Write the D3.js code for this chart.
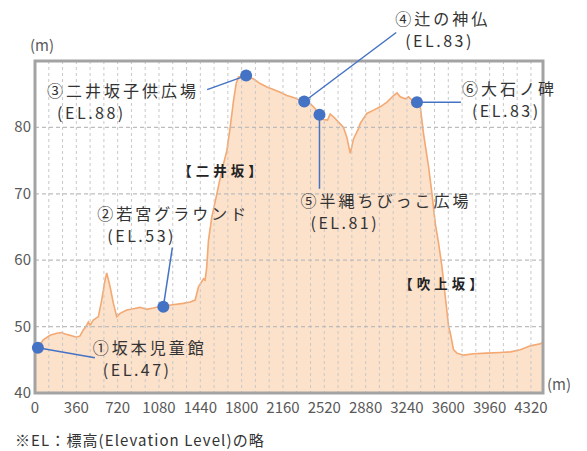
<!DOCTYPE html>
<html>
<head>
<meta charset="utf-8">
<script src="https://cdn.jsdelivr.net/npm/d3@7"></script>
<style>
  body { margin: 0; background: #fff; }
  text { font-family: "Noto Sans CJK JP", "Noto Sans", sans-serif; }
</style>
</head>
<body>
<svg id="chart" width="587" height="451"></svg>
<script>
// Elevation profile: distance from start (m) and elevation (m)
const distances = [
  0, 25, 72, 131, 189, 232, 262, 305, 363, 392, 421, 450, 465, 479, 508, 552,
  581, 610, 625, 654, 683, 712, 741, 799, 857, 915, 974, 1030, 1080, 1118, 1200,
  1290, 1351, 1395, 1424, 1468, 1482, 1496, 1511, 1540, 1584, 1627, 1671, 1700,
  1729, 1752, 1773, 1839, 1903, 1961, 2020, 2077, 2136, 2194, 2252, 2295, 2345,
  2397, 2441, 2478, 2513, 2548, 2571, 2600, 2644, 2687, 2717, 2746, 2775, 2818,
  2833, 2891, 2949, 3007, 3066, 3123, 3153, 3182, 3225, 3254, 3283, 3327, 3356,
  3385, 3429, 3458, 3487, 3516, 3545, 3574, 3603, 3618, 3646, 3676, 3734, 3821,
  3937, 4053, 4141, 4228, 4315, 4402, 4425
];
const elevations = [
  46.6, 46.8, 48.0, 48.7, 49.0, 49.1, 48.9, 48.7, 48.4, 48.6, 49.5, 50.2, 50.7, 50.2, 51.0, 51.5,
  54.0, 57.0, 58.1, 56.0, 53.5, 51.5, 52.0, 52.5, 52.7, 52.9, 52.6, 52.8, 53.0, 53.1, 53.3,
  53.5, 53.7, 54.0, 56.0, 57.2, 57.0, 59.0, 63.0, 66.5, 70.0, 73.5, 76.5, 80.0,
  84.0, 86.6, 87.6, 87.8, 87.3, 86.6, 86.1, 85.7, 85.3, 84.8, 84.5, 84.2, 83.9,
  83.6, 82.8, 81.9, 81.2, 81.1, 82.0, 81.6, 80.8, 80.0, 78.5, 76.1, 78.3, 79.8,
  80.6, 82.1, 82.6, 83.1, 83.8, 84.8, 85.2, 84.6, 84.3, 84.6, 84.1, 83.8, 83.1,
  79.0, 74.0, 70.0, 65.5, 62.5, 59.0, 54.5, 50.0, 49.0, 46.5, 46.0, 45.7, 45.9,
  46.0, 46.1, 46.2, 46.5, 47.1, 47.4, 47.7
];

// Landmarks along the route
const spotNames = ["①坂本児童館", "②若宮グラウンド", "③二井坂子供広場", "④辻の神仏", "⑤半縄ちびっこ広場", "⑥大石ノ碑"];
const spotDistances = [25, 1118, 1839, 2345, 2478, 3327];
const spotElevations = [46.8, 53.0, 87.8, 83.9, 81.9, 83.8];
const spotEL = [47, 53, 88, 83, 81, 83];

const slopeNames = ["【二井坂】", "【吹上坂】"];

const xTicks = d3.range(0, 4321, 360);
const yTicks = [40, 50, 60, 70, 80];
const xGrid = d3.range(120, 4321, 120);
const yGrid = [50, 60, 70, 80];

// annotation layout (pixel offsets from each dot)
const leaderEnds = [[57, 10], [9, -59], [-39, 14], [92, -69], [0, 74], [44, 0]];
const labelOffsets = [[55, 6], [-66, -87], [-199, 21], [91, -77], [-19, 92], [45, -7]];
const slopePos = [[222, 176], [443, 289]];

const plot = { left: 35, right: 543, top: 61, bottom: 393 };

const svg = d3.select("#chart");

const x = d3.scaleLinear().domain([0, 4425]).range([plot.left, plot.right]);
const y = d3.scaleLinear().domain([40, 90]).range([plot.bottom, plot.top]);

const profile = distances.map((d, i) => ({ d: d, v: elevations[i] }));

// area + line
svg.append("path")
  .datum(profile)
  .attr("fill", "#fce1cb")
  .attr("d", d3.area().x(p => x(p.d)).y0(y(40)).y1(p => y(p.v)));

svg.append("path")
  .datum(profile)
  .attr("fill", "none")
  .attr("stroke", "#f4a872")
  .attr("stroke-width", 1.6)
  .attr("d", d3.line().x(p => x(p.d)).y(p => y(p.v)));

// gridlines (drawn over the fill)
svg.append("g")
  .selectAll("line")
  .data(xGrid)
  .join("line")
  .attr("x1", d => x(d)).attr("x2", d => x(d))
  .attr("y1", plot.top).attr("y2", plot.bottom)
  .attr("stroke", "#c8c8c8")
  .attr("stroke-width", 1)
  .attr("stroke-dasharray", "3,3");

svg.append("g")
  .selectAll("line")
  .data(yGrid)
  .join("line")
  .attr("x1", plot.left).attr("x2", plot.right)
  .attr("y1", d => y(d)).attr("y2", d => y(d))
  .attr("stroke", "#bdbdbd")
  .attr("stroke-width", 1.2)
  .attr("stroke-dasharray", "4,3");

// frame
svg.append("rect")
  .attr("x", plot.left).attr("y", plot.top)
  .attr("width", plot.right - plot.left)
  .attr("height", plot.bottom - plot.top)
  .attr("fill", "none")
  .attr("stroke", "#a3a3a3")
  .attr("stroke-width", 3);

// axes labels
svg.append("g")
  .selectAll("text")
  .data(xTicks)
  .join("text")
  .attr("x", d => x(d))
  .attr("y", 413)
  .attr("text-anchor", "middle")
  .attr("font-size", 15)
  .attr("fill", "#595959")
  .text(d => d);

svg.append("g")
  .selectAll("text")
  .data(yTicks)
  .join("text")
  .attr("x", 31)
  .attr("y", d => y(d) + 5)
  .attr("text-anchor", "end")
  .attr("font-size", 15)
  .attr("fill", "#595959")
  .text(d => d);

svg.append("text").attr("x", 30).attr("y", 51)
  .attr("font-size", 15).attr("fill", "#595959").text("(m)");
svg.append("text").attr("x", 547).attr("y", 390)
  .attr("font-size", 15).attr("fill", "#595959").text("(m)");

// slope names
svg.append("g")
  .selectAll("text")
  .data(slopeNames)
  .join("text")
  .attr("x", (d, i) => slopePos[i][0])
  .attr("y", (d, i) => slopePos[i][1])
  .attr("text-anchor", "middle")
  .attr("font-size", 13.5)
  .attr("font-weight", "bold")
  .attr("letter-spacing", 4)
  .attr("fill", "#222")
  .text(d => d);

// landmarks
const spots = spotNames.map((name, i) => ({
  name: name,
  d: spotDistances[i],
  v: spotElevations[i],
  el: spotEL[i],
  lead: leaderEnds[i],
  off: labelOffsets[i]
}));

const spot = svg.append("g").selectAll("g").data(spots).join("g")
  .attr("transform", s => `translate(${x(s.d)},${y(s.v)})`);

spot.append("line")
  .attr("x1", 0).attr("y1", 0)
  .attr("x2", s => s.lead[0]).attr("y2", s => s.lead[1])
  .attr("stroke", "#4472c4")
  .attr("stroke-width", 1.5);

spot.append("circle")
  .attr("r", 6)
  .attr("fill", "#4472c4");

spot.append("text")
  .attr("x", s => s.off[0])
  .attr("y", s => s.off[1])
  .attr("font-size", 16)
  .attr("letter-spacing", 3)
  .attr("fill", "#333")
  .text(s => s.name);

spot.append("text")
  .attr("x", s => s.off[0] + 10)
  .attr("y", s => s.off[1] + 22)
  .attr("font-size", 16)
  .attr("letter-spacing", 2.5)
  .attr("fill", "#333")
  .text(s => `(EL.${s.el})`);

// footnote
svg.append("text")
  .attr("x", 15).attr("y", 446)
  .attr("font-size", 15)
  .attr("letter-spacing", 1.1)
  .attr("fill", "#333")
  .text("※EL：標高(Elevation Level)の略");
</script>
</body>
</html>
